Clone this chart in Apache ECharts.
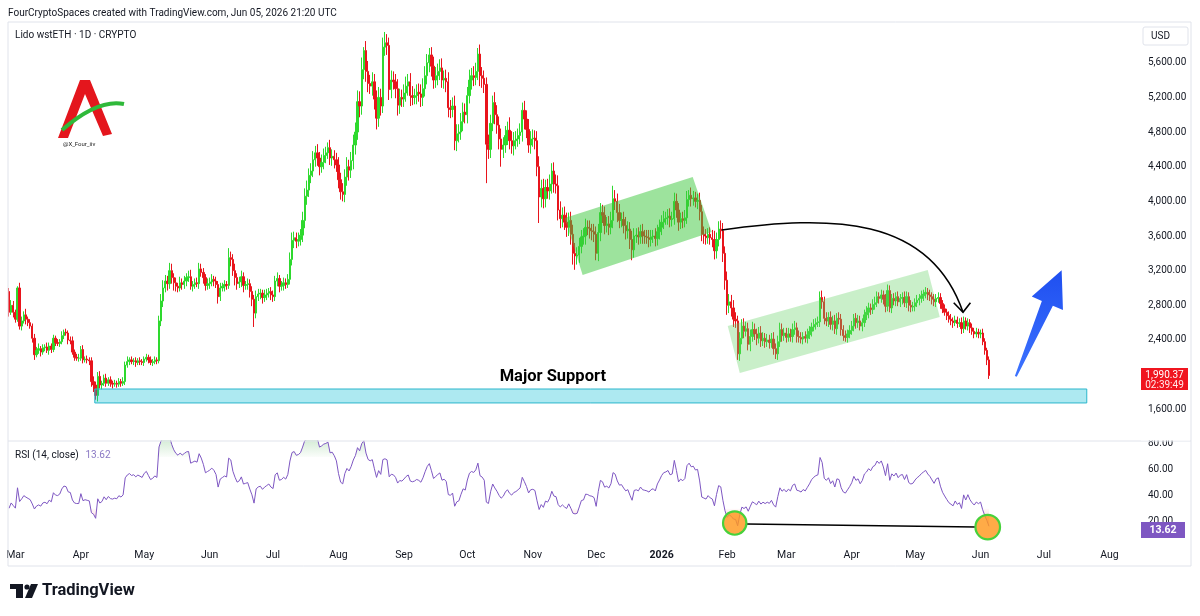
<!DOCTYPE html>
<html>
<head>
<meta charset="utf-8">
<title>Lido wstETH 1D</title>
<script src="https://cdn.jsdelivr.net/npm/echarts@6/dist/echarts.min.js"></script>
<style>
  html, body { margin: 0; padding: 0; background: #ffffff; }
  #chart { width: 1200px; height: 616px; }
</style>
</head>
<body>
<div id="chart"></div>
<script>
// ---- data -------------------------------------------------------------
const startDate = Date.UTC(2025, 1, 26);   // first candle, 2025-02-26
const axisDays = 536;                      // time scale runs on to mid Aug 2026
const firstOpen = 2960;

// daily closes, 2025-02-26 .. 2026-06-05 (open = previous close)
const closes = [
  // Feb 2025
  2720, 2800, 2720,
  // Mar
  2640, 3000, 2560, 2620, 2690, 2640, 2600, 2560, 2420, 2230,
  2280, 2300, 2260, 2310, 2320, 2280, 2330, 2290, 2420, 2370,
  2360, 2380, 2450, 2490, 2480, 2400, 2390, 2260, 2200, 2190,
  2190,
  // Apr
  2290, 2170, 2180, 2170, 2160, 1920, 1880, 1760, 1980, 1880,
  1900, 1960, 1900, 1940, 1900, 1890, 1900, 1890, 1920, 1900,
  1920, 2110, 2150, 2170, 2150, 2160, 2140, 2160, 2150, 2140,
  // May
  2180, 2200, 2170, 2140, 2150, 2170, 2160, 2620, 2850, 3000,
  3080, 3050, 3200, 3120, 3060, 3020, 3000, 3060, 3040, 3080,
  3120, 3130, 3020, 3040, 3060, 3050, 3220, 3180, 3120, 3030,
  3050,
  // Jun
  3070, 3100, 3080, 3040, 2900, 3000, 3020, 3040, 3030, 3350,
  3330, 3200, 3120, 3050, 3070, 3130, 3030, 3040, 3050, 2960,
  2870, 2710, 2900, 2930, 2940, 2890, 2920, 2940, 2960, 2920,
  // Jul
  2900, 3080, 3110, 3020, 3030, 3060, 3040, 3100, 3330, 3550,
  3580, 3540, 3560, 3610, 3780, 4060, 4130, 4300, 4350, 4480,
  4560, 4500, 4400, 4450, 4530, 4560, 4620, 4500, 4520, 4480,
  4420,
  // Aug
  4250, 4110, 4080, 4280, 4400, 4360, 4470, 4650, 4800, 5150,
  5100, 5520, 5740, 5500, 5360, 5330, 5380, 5180, 4960, 5200,
  5100, 5780, 5830, 5800, 5290, 5400, 5380, 5300, 5110, 5200,
  5180,
  // Sep
  5250, 5330, 5380, 5220, 5200, 5220, 5260, 5240, 5200, 5300,
  5450, 5600, 5690, 5560, 5400, 5450, 5500, 5540, 5400, 5420,
  5380, 5080, 5060, 5100, 4700, 4780, 4800, 4920, 5030, 5000,
  // Oct
  5220, 5400, 5450, 5430, 5500, 5700, 5450, 5420, 5350, 4660,
  4600, 4900, 5140, 5000, 4880, 4720, 4600, 4650, 4760, 4820,
  4700, 4640, 4700, 4720, 4760, 4800, 5050, 4950, 4830, 4650,
  4720,
  // Nov
  4730, 4700, 4400, 4050, 4150, 4030, 4160, 4120, 4200, 4350,
  4200, 4180, 3900, 3800, 3840, 3760, 3700, 3780, 3620, 3400,
  3370, 3380, 3480, 3590, 3600, 3700, 3690, 3660, 3650, 3620,
  // Dec
  3400, 3640, 3870, 3840, 3720, 3740, 3700, 3780, 4030, 4000,
  3870, 3780, 3790, 3720, 3660, 3680, 3560, 3440, 3600, 3610,
  3590, 3650, 3600, 3590, 3580, 3560, 3590, 3600, 3570, 3650,
  3700,
  // Jan 2026
  3760, 3800, 3810, 3830, 3790, 3800, 4000, 3900, 3760, 3800,
  3780, 3810, 4020, 4070, 4030, 4040, 4000, 4010, 3880, 3620,
  3600, 3580, 3620, 3580, 3560, 3430, 3560, 3680, 3660, 3400,
  3090,
  // Feb
  2800, 2840, 2770, 2640, 2620, 2240, 2420, 2560, 2500, 2530,
  2350, 2440, 2520, 2470, 2420, 2480, 2390, 2420, 2380, 2400,
  2370, 2410, 2300, 2240, 2380, 2520, 2450, 2480,
  // Mar
  2430, 2470, 2440, 2520, 2540, 2440, 2430, 2410, 2440, 2420,
  2460, 2500, 2550, 2580, 2600, 2610, 2890, 2840, 2650, 2620,
  2660, 2580, 2620, 2530, 2650, 2640, 2520, 2450, 2430, 2470,
  2510,
  // Apr
  2560, 2650, 2600, 2620, 2560, 2600, 2690, 2720, 2770, 2750,
  2810, 2830, 2900, 2880, 2920, 2870, 2790, 2970, 2770, 2880,
  2850, 2900, 2840, 2880, 2890, 2830, 2900, 2800, 2780, 2790,
  // May
  2830, 2860, 2880, 2910, 2930, 2950, 2920, 2900, 2870, 2840,
  2880, 2890, 2820, 2760, 2720, 2680, 2640, 2620, 2600, 2630,
  2590, 2600, 2530, 2620, 2560, 2600, 2540, 2500, 2470, 2490,
  2470,
  // Jun
  2480, 2380, 2280, 2170, 1990.37
];

// wick above the body, per candle
const wickHi = [
  40, 60, 50,
  30, 20, 60, 50, 40, 70, 30, 40, 30, 50, 40, 60, 30, 40, 30, 50, 40, 30, 40, 30, 40, 30, 50, 30, 40, 30, 40, 50, 30, 40, 50,
  40, 50, 30, 40, 30, 40, 60, 40, 50, 60, 30, 40, 50, 30, 40, 30, 40, 30, 40, 30, 50, 40, 60, 30, 40, 30, 40, 30, 40, 30,
  30, 40, 30, 40, 30, 40, 30, 60, 80, 90, 70, 60, 90, 80, 50, 60, 40, 70, 50, 60, 50, 70, 80, 40, 50, 60, 70, 60, 50, 40, 60,
  50, 60, 40, 50, 40, 60, 40, 50, 40, 110, 70, 60, 80, 50, 60, 70, 50, 40, 60, 50, 60, 50, 70, 60, 50, 40, 60, 50, 40, 50,
  50, 60, 70, 40, 50, 60, 50, 60, 80, 90, 70, 60, 80, 70, 100, 90, 110, 80, 90, 100, 80, 100, 70, 90, 80, 70, 60, 90, 80, 70, 80,
  90, 80, 100, 90, 110, 80, 100, 120, 110, 130, 120, 140, 40, 110, 120, 100, 110, 90, 100, 120, 100, 110, 125, 100, 90, 110, 100, 90, 110, 100, 90,
  100, 110, 90, 100, 110, 80, 90, 100, 110, 120, 110, 100, 80, 90, 110, 100, 90, 100, 110, 90, 100, 110, 90, 100, 120, 110, 90, 100, 110, 100,
  100, 120, 90, 110, 100, 70, 110, 100, 90, 80, 110, 100, 80, 120, 110, 100, 120, 90, 110, 100, 150, 110, 100, 90, 80, 100, 90, 110, 100, 120, 90,
  100, 90, 110, 120, 100, 110, 90, 100, 110, 90, 100, 110, 120, 100, 90, 100, 110, 90, 100, 110, 120, 90, 100, 80, 90, 100, 80, 90, 80, 90,
  90, 100, 110, 90, 100, 80, 90, 100, 150, 100, 90, 100, 80, 90, 100, 90, 80, 100, 90, 80, 90, 80, 90, 70, 80, 90, 80, 70, 90, 80, 90,
  80, 90, 70, 80, 90, 80, 100, 90, 80, 70, 80, 90, 100, 60, 90, 80, 70, 80, 90, 80, 90, 80, 70, 80, 90, 100, 80, 90, 100, 90, 80,
  100, 90, 80, 90, 80, 60, 70, 80, 90, 80, 70, 80, 90, 70, 60, 70, 80, 70, 60, 70, 60, 70, 80, 60, 70, 80, 70, 60,
  60, 70, 60, 70, 80, 60, 70, 60, 50, 60, 70, 60, 50, 60, 50, 60, 70, 80, 60, 70, 60, 70, 60, 70, 60, 70, 60, 50, 60, 50, 60,
  60, 50, 60, 70, 60, 50, 60, 70, 60, 50, 60, 70, 60, 50, 60, 50, 60, 70, 60, 50, 60, 50, 60, 50, 60, 70, 60, 50, 60, 50,
  50, 60, 50, 60, 50, 60, 50, 60, 50, 60, 50, 60, 50, 40, 50, 40, 50, 60, 40, 50, 40, 50, 60, 50, 40, 50, 40, 50, 40, 50, 40,
  40, 50, 40, 30, 40
];

// wick below the body, per candle
const wickLo = [
  50, 30, 60,
  40, 30, 40, 50, 30, 60, 40, 30, 50, 60, 30, 40, 50, 30, 40, 30, 50, 40, 30, 40, 30, 40, 30, 40, 30, 50, 40, 30, 40, 30, 40,
  30, 40, 30, 40, 50, 60, 80, 50, 70, 40, 50, 30, 40, 30, 40, 50, 30, 40, 30, 40, 30, 40, 30, 40, 30, 40, 50, 30, 40, 30,
  40, 30, 40, 30, 40, 30, 40, 30, 60, 70, 50, 80, 60, 70, 90, 60, 50, 40, 60, 50, 60, 50, 40, 60, 50, 40, 60, 50, 70, 60, 50,
  60, 50, 60, 40, 80, 50, 40, 60, 50, 40, 80, 60, 90, 70, 50, 60, 80, 50, 60, 70, 80, 160, 60, 50, 60, 70, 50, 60, 50, 60,
  60, 50, 60, 70, 50, 60, 50, 40, 60, 70, 90, 80, 60, 70, 80, 90, 100, 80, 90, 70, 80, 90, 100, 70, 80, 90, 70, 80, 90, 100, 80,
  100, 90, 80, 90, 100, 120, 90, 100, 110, 90, 130, 100, 110, 120, 100, 90, 110, 120, 130, 100, 110, 80, 100, 110, 120, 100, 90, 110, 120, 100, 90,
  90, 100, 110, 120, 90, 80, 100, 90, 110, 100, 90, 100, 110, 120, 100, 90, 110, 100, 90, 100, 120, 110, 100, 90, 110, 120, 100, 90, 110, 100,
  100, 90, 110, 100, 90, 100, 120, 110, 100, 450, 110, 100, 90, 110, 100, 120, 200, 100, 90, 110, 100, 90, 110, 100, 90, 100, 110, 120, 100, 90, 100,
  90, 100, 110, 300, 120, 110, 100, 90, 100, 110, 100, 90, 120, 110, 100, 90, 110, 100, 120, 130, 160, 100, 90, 80, 90, 100, 80, 90, 100, 90,
  80, 90, 100, 90, 100, 80, 90, 80, 90, 100, 110, 90, 80, 90, 100, 90, 110, 120, 90, 80, 90, 80, 90, 80, 70, 90, 80, 70, 90, 80, 90,
  90, 80, 70, 80, 90, 80, 70, 90, 100, 80, 90, 80, 70, 80, 90, 80, 70, 90, 100, 80, 90, 80, 70, 80, 90, 100, 90, 80, 90, 100, 110,
  110, 90, 100, 90, 80, 70, 80, 70, 80, 60, 70, 80, 60, 70, 80, 60, 70, 60, 70, 60, 70, 60, 70, 60, 70, 60, 70, 60,
  60, 50, 60, 70, 60, 70, 60, 50, 60, 50, 60, 50, 60, 50, 60, 50, 60, 80, 70, 60, 70, 60, 70, 60, 70, 60, 70, 60, 50, 60, 50,
  50, 60, 70, 60, 50, 60, 50, 60, 70, 60, 50, 60, 50, 60, 50, 60, 70, 60, 50, 60, 50, 60, 50, 60, 70, 50, 60, 70, 60, 50,
  60, 50, 60, 50, 60, 50, 60, 50, 60, 50, 60, 50, 60, 50, 40, 50, 40, 50, 60, 40, 50, 40, 60, 50, 40, 50, 60, 40, 50, 40, 50,
  50, 40, 50, 60, 40
];

// closes 2025-02-12 .. 02-25, only used to warm up the RSI
const rsiWarmup = [3260, 3190, 3240, 3200, 3170, 3270, 3180, 3240, 3260, 3170, 3280, 3360, 2990, 2960];
const rsiPeriod = 14;
const rsiLast = 13.62;

const priceTicks = [1600, 2400, 2800, 3200, 3600, 4000, 4400, 4800, 5200, 5600];
const rsiTicks = [20, 40, 60, 80];
const monthNames = ['Jan', 'Feb', 'Mar', 'Apr', 'May', 'Jun', 'Jul', 'Aug', 'Sep', 'Oct', 'Nov', 'Dec'];

// drawings, as [day index, price] (or [day, rsi])
const upperChannel = [[263.1, 3808], [323.7, 4281], [332.7, 3646], [271.6, 3150]];
const lowerChannel = [[340.3, 2561], [435.0, 3208], [440.7, 2665], [346.0, 2019]];
const supportZone = [[40.6, 1834], [510.3, 1673]];
const curveArrow = [[337.5, 3670], [388.6, 3843], [435.9, 3843], [451.7, 2719]];
const curveHead = [[447.3, 2830], [451.7, 2719], [455.2, 2830]];
const blueArrow = [[476.7, 1980], [498.4, 3204]];
const rsiCircles = [[343.6, 19.0], [463.4, 15.9]];
const rsiLine = [[349.3, 18.2], [457.7, 15.9]];
const supportLabel = [232.3, 1973];

// ---- derived ----------------------------------------------------------
const dates = [];
for (let i = 0; i < axisDays; i++) {
  dates.push(new Date(startDate + i * 86400000).toISOString().slice(0, 10));
}

const candles = closes.map((c, i) => {
  const o = i === 0 ? firstOpen : closes[i - 1];
  return [o, c, Math.min(o, c) - (wickLo[i] || 0), Math.max(o, c) + (wickHi[i] || 0)];
});

function calcRsi(values, period) {
  const out = [];
  let gain = 0, loss = 0;
  for (let i = 1; i <= period; i++) {
    const ch = values[i] - values[i - 1];
    if (ch > 0) gain += ch; else loss -= ch;
  }
  gain /= period; loss /= period;
  out[period] = loss === 0 ? 100 : 100 - 100 / (1 + gain / loss);
  for (let i = period + 1; i < values.length; i++) {
    const ch = values[i] - values[i - 1];
    gain = (gain * (period - 1) + Math.max(ch, 0)) / period;
    loss = (loss * (period - 1) + Math.max(-ch, 0)) / period;
    out[i] = loss === 0 ? 100 : 100 - 100 / (1 + gain / loss);
  }
  return out;
}
const rsiVals = calcRsi(rsiWarmup.concat(closes), rsiPeriod)
  .slice(rsiWarmup.length)
  .map(v => +v.toFixed(2));

const fmtPrice = v => v.toLocaleString('en-US', { minimumFractionDigits: 2, maximumFractionDigits: 2 });

// ---- chart ------------------------------------------------------------
const FONT = 'Roboto, "Noto Sans", sans-serif';
const TXT = '#131722';
const UP = '#2ed92e';
const DOWN = '#e8141c';

const chart = echarts.init(document.getElementById('chart'));

const option = {
  animation: false,
  backgroundColor: '#ffffff',
  textStyle: { fontFamily: FONT },
  grid: [
    { left: 8, right: 60, top: 22, height: 419 },
    { left: 8, right: 60, top: 441, height: 101 }
  ],
  xAxis: [{
    type: 'category', gridIndex: 0, data: dates, boundaryGap: true,
    axisLine: { show: false }, axisTick: { show: false },
    axisLabel: { show: false }, splitLine: { show: false }
  }, {
    type: 'category', gridIndex: 1, data: dates, boundaryGap: true,
    axisLine: { show: false }, axisTick: { show: false }, splitLine: { show: false },
    axisLabel: {
      interval: (idx, v) => v.slice(8) === '01',
      margin: 8, fontSize: 10.5, color: TXT, fontFamily: FONT,
      formatter: v => {
        const m = +v.slice(5, 7);
        return m === 1 ? '{y|' + v.slice(0, 4) + '}' : monthNames[m - 1];
      },
      rich: { y: { fontWeight: 'bold', fontSize: 10.5, color: TXT, fontFamily: FONT } }
    }
  }],
  yAxis: [{
    type: 'value', gridIndex: 0, position: 'right', min: 1234, max: 6070,
    splitLine: { show: false }, axisLine: { show: false }, axisTick: { show: false },
    axisLabel: {
      customValues: priceTicks, formatter: fmtPrice,
      margin: 8, fontSize: 10, color: TXT, fontFamily: FONT
    }
  }, {
    type: 'value', gridIndex: 1, position: 'right', min: 4.4, max: 82.3,
    splitLine: { show: false }, axisLine: { show: false }, axisTick: { show: false },
    axisLabel: {
      customValues: rsiTicks, formatter: v => v.toFixed(2),
      margin: 8, fontSize: 10, color: TXT, fontFamily: FONT
    }
  }],
  series: [{
    name: 'wstETH',
    type: 'candlestick',
    xAxisIndex: 0, yAxisIndex: 0,
    data: candles,
    barWidth: 1.8,
    itemStyle: { color: UP, color0: DOWN, borderColor: UP, borderColor0: DOWN, borderWidth: 1 }
  }, {
    name: 'overbought',
    type: 'line', xAxisIndex: 1, yAxisIndex: 1,
    data: rsiVals.map(v => Math.max(v, 70)),
    showSymbol: false, silent: true, z: 1,
    lineStyle: { opacity: 0 },
    areaStyle: {
      origin: 70,
      color: new echarts.graphic.LinearGradient(0, 0, 0, 1, [
        { offset: 0, color: 'rgba(76,175,80,0.45)' },
        { offset: 1, color: 'rgba(76,175,80,0.04)' }
      ])
    }
  }, {
    name: 'oversold',
    type: 'line', xAxisIndex: 1, yAxisIndex: 1,
    data: rsiVals.map(v => Math.min(v, 30)),
    showSymbol: false, silent: true, z: 1,
    lineStyle: { opacity: 0 },
    areaStyle: {
      origin: 30,
      color: new echarts.graphic.LinearGradient(0, 0, 0, 1, [
        { offset: 0, color: 'rgba(242,54,69,0.04)' },
        { offset: 1, color: 'rgba(242,54,69,0.45)' }
      ])
    }
  }, {
    name: 'RSI',
    type: 'line', xAxisIndex: 1, yAxisIndex: 1,
    data: rsiVals, showSymbol: false, z: 3,
    lineStyle: { color: '#7e57c2', width: 1 }
  }]
};

chart.setOption(option);

// ---- overlay (TradingView drawings and chrome) -------------------------
function toPx(grid, d, v) {
  const a = chart.convertToPixel({ gridIndex: grid }, [0, v]);
  const b = chart.convertToPixel({ gridIndex: grid }, [1, v]);
  return [a[0] + d * (b[0] - a[0]), a[1]];
}
const P = pt => toPx(0, pt[0], pt[1]);
const R = pt => toPx(1, pt[0], pt[1]);

const els = [];
const BORDER = '#e0e3eb';

// frame
[[8, 22, 1191, 22], [8, 441, 1191, 441], [8, 566, 1191, 566], [8, 22, 8, 566], [1191, 22, 1191, 566]].forEach(l => {
  els.push({ type: 'line', z: 50, shape: { x1: l[0], y1: l[1], x2: l[2], y2: l[3] }, style: { stroke: BORDER, lineWidth: 1 } });
});

// header texts
els.push({ type: 'text', x: 8, y: 13, z: 60, style: {
  text: 'FourCryptoSpaces created with TradingView.com, Jun 05, 2026 21:20 UTC',
  fill: TXT, font: '10px ' + FONT, verticalAlign: 'middle' } });
els.push({ type: 'text', x: 15, y: 35, z: 60, style: {
  text: 'Lido wstETH · 1D · CRYPTO', fill: TXT, font: '10px ' + FONT, verticalAlign: 'middle' } });
els.push({ type: 'text', x: 15, y: 455, z: 60, style: {
  text: '{a|RSI (14, close)}  {b|' + rsiLast.toFixed(2) + '}',
  verticalAlign: 'middle',
  rich: { a: { fill: TXT, font: '10px ' + FONT }, b: { fill: '#8a79c4', font: '10px ' + FONT } } } });

// channels
els.push({ type: 'polygon', z: 10, shape: { points: upperChannel.map(P) }, style: { fill: 'rgba(60,200,60,0.5)' } });
els.push({ type: 'polygon', z: 10, shape: { points: lowerChannel.map(P) }, style: { fill: 'rgba(100,210,100,0.35)' } });

// support zone
const s0 = P(supportZone[0]), s1 = P(supportZone[1]);
els.push({ type: 'rect', z: 10, shape: { x: s0[0], y: s0[1], width: s1[0] - s0[0], height: s1[1] - s0[1] },
  style: { fill: 'rgba(0,188,212,0.32)', stroke: '#2bb6cc', lineWidth: 1 } });
const sl = P(supportLabel);
els.push({ type: 'text', x: sl[0], y: sl[1], z: 20, style: {
  text: 'Major Support', fill: '#000000', font: 'bold 16.5px ' + FONT, verticalAlign: 'middle' } });

// curved arrow
const c = curveArrow.map(P);
els.push({ type: 'bezierCurve', z: 20, shape: {
  x1: c[0][0], y1: c[0][1], cpx1: c[1][0], cpy1: c[1][1], cpx2: c[2][0], cpy2: c[2][1], x2: c[3][0], y2: c[3][1] },
  style: { stroke: '#000000', lineWidth: 1.6, fill: null } });
els.push({ type: 'polyline', z: 20, shape: { points: curveHead.map(P) }, style: { stroke: '#000000', lineWidth: 1.6 } });

// blue arrow
(function () {
  const t = P(blueArrow[0]), h = P(blueArrow[1]);
  const dx = h[0] - t[0], dy = h[1] - t[1], len = Math.hypot(dx, dy);
  const ux = dx / len, uy = dy / len, nx = -uy, ny = ux;
  const headLen = 36, headHalf = 17;
  const bx = h[0] - ux * headLen, by = h[1] - uy * headLen;
  const fill = new echarts.graphic.LinearGradient(0, 1, 0, 0, [
    { offset: 0, color: '#3d73ff' }, { offset: 1, color: '#1f4ff0' }
  ]);
  els.push({ type: 'polygon', z: 20, shape: { points: [
    [t[0] + nx * 1, t[1] + ny * 1], [bx + nx * 6, by + ny * 6], [bx + nx * headHalf, by + ny * headHalf],
    h, [bx - nx * headHalf, by - ny * headHalf], [bx - nx * 6, by - ny * 6], [t[0] - nx * 1, t[1] - ny * 1]
  ] }, style: { fill: fill } });
})();

// rsi circles and connecting line
const r0 = R(rsiLine[0]), r1 = R(rsiLine[1]);
els.push({ type: 'line', z: 20, shape: { x1: r0[0], y1: r0[1], x2: r1[0], y2: r1[1] }, style: { stroke: '#000000', lineWidth: 1.5 } });
rsiCircles.forEach((pt, i) => {
  const q = R(pt);
  els.push({ type: 'circle', z: 21, shape: { cx: q[0], cy: q[1], r: i === 0 ? 11.7 : 12.3 },
    style: { fill: 'rgba(255,152,30,0.82)', stroke: '#47d13b', lineWidth: 2.2 } });
});

// watermark logo
els.push({ type: 'polygon', z: 30, shape: { points: [[58, 138], [80, 80], [90, 80], [112, 134], [103, 136], [85, 94], [68, 138]] }, style: { fill: '#e4161d' } });
els.push({ type: 'bezierCurve', z: 31, shape: { x1: 62, y1: 130, cpx1: 85, cpy1: 110, cpx2: 105, cpy2: 100, x2: 124, y2: 104 },
  style: { stroke: '#2fb93a', lineWidth: 4, fill: null } });
els.push({ type: 'text', x: 63, y: 144, z: 31, style: { text: '@X_Four_iiv', fill: '#222', font: '6px ' + FONT, verticalAlign: 'middle' } });

// price scale chrome
els.push({ type: 'rect', z: 60, shape: { x: 1141, y: 432, width: 49, height: 8.5 }, style: { fill: '#ffffff' } });
els.push({ type: 'rect', z: 60, shape: { x: 1143, y: 27, width: 45, height: 18, r: 2 }, style: { fill: '#ffffff', stroke: '#e0e3eb' } });
els.push({ type: 'text', x: 1151, y: 36, z: 61, style: { text: 'USD', fill: TXT, font: '10px ' + FONT, verticalAlign: 'middle' } });

const lp = P([0, closes[closes.length - 1]]);
els.push({ type: 'rect', z: 60, shape: { x: 1141, y: lp[1] - 7.5, width: 47, height: 22 }, style: { fill: '#f0151f' } });
els.push({ type: 'text', x: 1164.5, y: lp[1], z: 61, style: {
  text: fmtPrice(closes[closes.length - 1]), fill: '#ffffff', font: '10px ' + FONT, align: 'center', verticalAlign: 'middle' } });
els.push({ type: 'text', x: 1164.5, y: lp[1] + 10, z: 61, style: {
  text: '02:39:49', fill: '#ffe9ea', font: '10px ' + FONT, align: 'center', verticalAlign: 'middle' } });

const rp = R([0, rsiLast]);
els.push({ type: 'rect', z: 60, shape: { x: 1141, y: rp[1] - 8, width: 44, height: 16 }, style: { fill: '#7e57c2' } });
els.push({ type: 'text', x: 1163, y: rp[1], z: 61, style: {
  text: rsiLast.toFixed(2), fill: '#ffffff', font: 'bold 10.5px ' + FONT, align: 'center', verticalAlign: 'middle' } });

// TradingView footer logo
els.push({ type: 'rect', z: 60, shape: { x: 10, y: 584, width: 13, height: 5 }, style: { fill: '#131722' } });
els.push({ type: 'rect', z: 60, shape: { x: 16, y: 584, width: 7, height: 14 }, style: { fill: '#131722' } });
els.push({ type: 'circle', z: 60, shape: { cx: 27, cy: 587, r: 2.6 }, style: { fill: '#131722' } });
els.push({ type: 'polygon', z: 60, shape: { points: [[31, 584], [38, 584], [32, 598], [25, 598]] }, style: { fill: '#131722' } });
els.push({ type: 'text', x: 42, y: 591, z: 60, style: { text: 'TradingView', fill: '#131722', font: 'bold 16.5px ' + FONT, verticalAlign: 'middle' } });

chart.setOption({ graphic: { elements: els } });
window.addEventListener('resize', chart.resize);
</script>
</body>
</html>
